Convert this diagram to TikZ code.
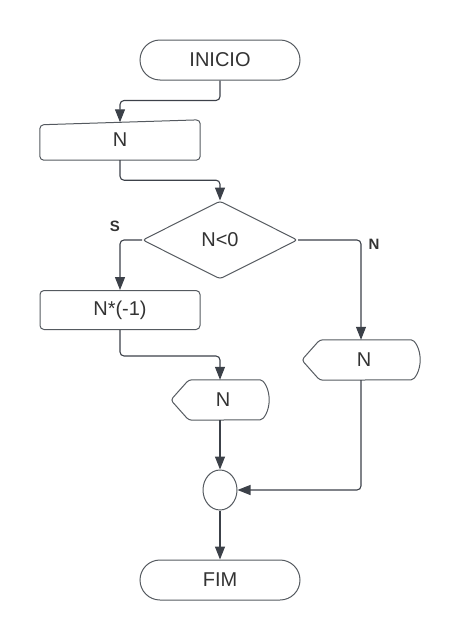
\documentclass[tikz,border=0pt]{standalone}
\usepackage{fontspec}
\setmainfont{Liberation Sans}
\usetikzlibrary{shapes.geometric,arrows.meta}
\definecolor{linegray}{HTML}{3C4149}
\definecolor{boxgray}{HTML}{555A60}
\definecolor{textgray}{HTML}{333333}
\tikzset{
  shp/.style={draw=boxgray,line width=1pt,rounded corners=4pt},
  txt/.style={text=textgray,font=\fontsize{20}{23}\selectfont,inner sep=0pt},
  term/.style={txt,draw=boxgray,line width=1pt,rounded corners=20pt,minimum width=160pt,minimum height=40pt},
  proc/.style={txt,shp,minimum width=160pt,minimum height=39pt},
  flow/.style={draw=linegray,line width=1.1pt,rounded corners=4pt,-{Triangle[length=13pt,width=10pt]}},
  lbl/.style={text=textgray,font=\fontsize{15}{17}\selectfont\bfseries}
}
\begin{document}
\begin{tikzpicture}[x=1pt,y=-1pt]
  \useasboundingbox (0,0) rectangle (460,640);
  \node[term] (ini) at (220,60) {INICIO};
  \node[txt,minimum width=160pt,minimum height=40pt] (nin) at (120,140) {N};
  \draw[shp] (nin.south west) -- ([yshift=-5pt]nin.north west) -- (nin.north east) -- (nin.south east) -- cycle;
  \node[txt,shp,diamond,minimum width=155pt,minimum height=78pt,rounded corners=3pt] (dec) at (220,240) {N<0};
  \node[proc] (mul) at (120,310) {N*(-1)};
  \node[txt,minimum width=98pt,minimum height=40pt] (out1) at (220,400) {\hspace{6pt}N};
  \draw[shp,rounded corners=3pt] (out1.west) -- ([xshift=18pt]out1.north west) -- ([xshift=-12pt]out1.north east)
    arc[start angle=90,end angle=-90,x radius=12pt,y radius=20pt] -- ([xshift=18pt]out1.south west) -- cycle;
  \node[txt,minimum width=118pt,minimum height=40pt] (out2) at (361,360) {\hspace{6pt}N};
  \draw[shp,rounded corners=3pt] (out2.west) -- ([xshift=18pt]out2.north west) -- ([xshift=-12pt]out2.north east)
    arc[start angle=90,end angle=-90,x radius=12pt,y radius=20pt] -- ([xshift=18pt]out2.south west) -- cycle;
  \node[shp,ellipse,minimum width=34pt,minimum height=40pt,inner sep=0pt] (con) at (220,490) {};
  \node[term] (fim) at (220,580) {FIM};
  \node[lbl] (sim) at (115,226) {S};
  \node[lbl] (nao) at (374,244) {N};
  \begin{scope}[flow]
    \draw (ini.south) -- ++(0,20) -| ([yshift=-2.5pt]nin.north);
    \draw (nin.south) -- ++(0,20) -| (dec.north);
    \draw (dec.west) -| (mul.north);
    \draw (dec.east) -| (out2.north);
    \draw (mul.south) -- ++(0,26) -| (out1.north);
    \draw (out1.south) -- (con.north);
    \draw (out2.south) |- (con.east);
    \draw (con.south) -- (fim.north);
  \end{scope}
\end{tikzpicture}
\end{document}
